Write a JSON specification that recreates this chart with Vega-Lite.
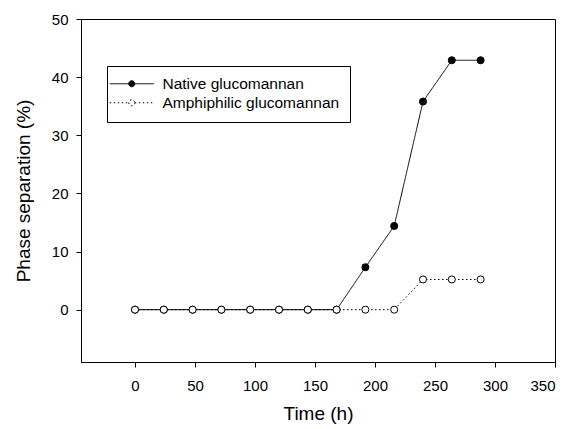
{
  "$schema": "https://vega.github.io/schema/vega-lite/v6.json",
  "width": 474,
  "height": 343,
  "autosize": {"type": "none"},
  "padding": {"left": 81, "top": 19, "right": 23, "bottom": 67},
  "background": "white",
  "config": {
    "font": "Liberation Sans",
    "view": {"stroke": "black", "strokeWidth": 1},
    "axis": {
      "grid": false,
      "domainColor": "black",
      "tickColor": "black",
      "labelColor": "black",
      "titleColor": "black",
      "labelFont": "Liberation Sans",
      "titleFont": "Liberation Sans",
      "labelFontSize": 15,
      "titleFontSize": 19,
      "titleFontWeight": "normal",
      "tickSize": 5
    },
    "legend": {
      "orient": "none",
      "legendX": 26,
      "legendY": 47,
      "padding": 10,
      "strokeColor": "black",
      "fillColor": "white",
      "cornerRadius": 0,
      "symbolType": "M-5.5,0H-0.75M0.75,0H5.5M0.75,0A0.75,0.75 0 1,1 -0.75,0A0.75,0.75 0 1,1 0.75,0Z",
      "symbolSize": 64,
      "symbolOffset": 7,
      "labelOffset": 23,
      "labelLimit": 400,
      "labelFontSize": 15.5,
      "labelFont": "Liberation Sans",
      "labelColor": "black",
      "rowPadding": 2,
      "symbolStrokeColor": "black",
      "symbolStrokeWidth": 1
    }
  },
  "data": {
    "values": [
      {"series": "Native glucomannan", "time": 0, "value": 0},
      {"series": "Native glucomannan", "time": 24, "value": 0},
      {"series": "Native glucomannan", "time": 48, "value": 0},
      {"series": "Native glucomannan", "time": 72, "value": 0},
      {"series": "Native glucomannan", "time": 96, "value": 0},
      {"series": "Native glucomannan", "time": 120, "value": 0},
      {"series": "Native glucomannan", "time": 144, "value": 0},
      {"series": "Native glucomannan", "time": 168, "value": 0},
      {"series": "Native glucomannan", "time": 192, "value": 7.3},
      {"series": "Native glucomannan", "time": 216, "value": 14.4},
      {"series": "Native glucomannan", "time": 240, "value": 35.8},
      {"series": "Native glucomannan", "time": 264, "value": 42.9},
      {"series": "Native glucomannan", "time": 288, "value": 42.9},
      {"series": "Amphiphilic glucomannan", "time": 0, "value": 0},
      {"series": "Amphiphilic glucomannan", "time": 24, "value": 0},
      {"series": "Amphiphilic glucomannan", "time": 48, "value": 0},
      {"series": "Amphiphilic glucomannan", "time": 72, "value": 0},
      {"series": "Amphiphilic glucomannan", "time": 96, "value": 0},
      {"series": "Amphiphilic glucomannan", "time": 120, "value": 0},
      {"series": "Amphiphilic glucomannan", "time": 144, "value": 0},
      {"series": "Amphiphilic glucomannan", "time": 168, "value": 0},
      {"series": "Amphiphilic glucomannan", "time": 192, "value": 0},
      {"series": "Amphiphilic glucomannan", "time": 216, "value": 0},
      {"series": "Amphiphilic glucomannan", "time": 240, "value": 5.2},
      {"series": "Amphiphilic glucomannan", "time": 264, "value": 5.2},
      {"series": "Amphiphilic glucomannan", "time": 288, "value": 5.2}
    ]
  },
  "layer": [
    {
      "mark": {"type": "line", "color": "black", "strokeWidth": 1},
      "encoding": {
        "x": {
          "field": "time", "type": "quantitative",
          "scale": {"domain": [-45, 350], "nice": false, "zero": false},
          "axis": {"values": [0, 50, 100, 150, 200, 250, 300, 350], "title": "Time (h)", "labelPadding": 11, "titlePadding": 11}
        },
        "y": {
          "field": "value", "type": "quantitative",
          "scale": {"domain": [-9, 50], "nice": false, "zero": false},
          "axis": {"values": [0, 10, 20, 30, 40, 50], "title": "Phase separation (%)", "labelPadding": 8, "titlePadding": 18}
        },
        "strokeDash": {
          "field": "series", "type": "nominal",
          "scale": {"domain": ["Native glucomannan", "Amphiphilic glucomannan"], "range": [[1, 0], [1.5, 2.5]]},
          "legend": {"title": null}
        }
      }
    },
    {
      "mark": {"type": "point", "shape": "circle", "filled": true, "stroke": "black", "strokeWidth": 1, "size": 50, "opacity": 1},
      "encoding": {
        "x": {"field": "time", "type": "quantitative"},
        "y": {"field": "value", "type": "quantitative"},
        "fill": {
          "field": "series", "type": "nominal",
          "scale": {"domain": ["Native glucomannan", "Amphiphilic glucomannan"], "range": ["black", "white"]},
          "legend": {"title": null}
        }
      }
    }
  ]
}
